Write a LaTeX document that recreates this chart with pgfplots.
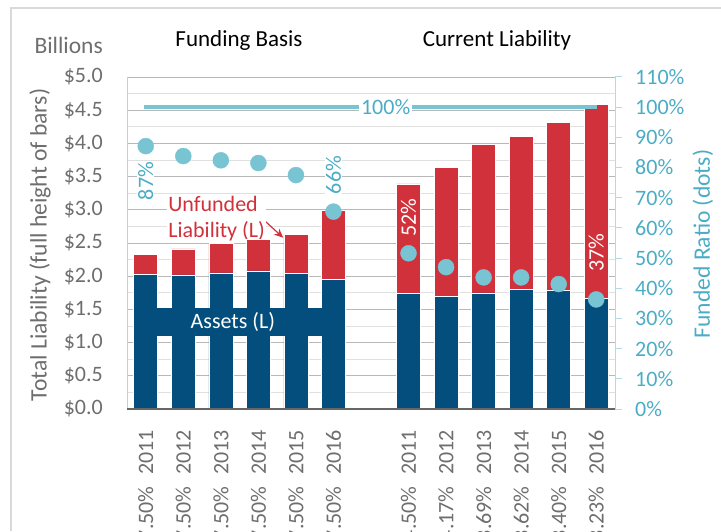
\documentclass[border=0pt]{standalone}
\usepackage{pgfplots}
\pgfplotsset{compat=1.18}
\usepackage{pgfplotstable}
\usepackage{fontspec}
\setmainfont{Carlito}
\usetikzlibrary{arrows.meta}
\definecolor{txtgray}{RGB}{110,110,110}
\definecolor{teal1}{RGB}{75,172,198}
\definecolor{dotc}{RGB}{120,196,210}
\definecolor{dblue}{RGB}{3,78,124}
\definecolor{dred}{RGB}{209,49,58}
\definecolor{raxis}{RGB}{175,220,230}

\pgfplotstableread{
x assets unfunded
0 2.03 0.30
1 2.02 0.39
2 2.05 0.44
3 2.08 0.47
4 2.04 0.59
5 1.95 1.04
7 1.74 1.65
8 1.69 1.95
9 1.75 2.24
10 1.80 2.31
11 1.79 2.53
12 1.67 2.92
}\bars

\pgfplotstableread{
x ratio
0 87.1
1 83.8
2 82.4
3 81.5
4 77.5
5 65.4
7 51.6
8 47.0
9 43.6
10 43.6
11 41.4
12 36.3
}\ratios

\begin{document}
\fontsize{22}{26}\selectfont
\begin{tikzpicture}[x=1pt,y=1pt]
\useasboundingbox (0,0) rectangle (721,531);
\draw[black!15, line width=1.5pt] (11,0) -- (11,523) -- (721,523);

\node[anchor=east, text=txtgray, inner sep=0pt, font=\fontsize{23.5}{28}\selectfont] at (103,486) {Billions};
\node[text=black, font=\fontsize{23}{28}\selectfont] at (239,491) {Funding Basis};
\node[text=black, font=\fontsize{23}{28}\selectfont] at (497,491) {Current Liability};
\node[rotate=90, text=txtgray, font=\fontsize{23.6}{28}\selectfont] at (40,286) {Total Liability (full height of bars)};
\node[rotate=90, text=teal1, font=\fontsize{23.6}{28}\selectfont] at (703,287) {Funded Ratio (dots)};

\begin{axis}[
  at={(127pt,122pt)}, anchor=south west,
  scale only axis, width=488pt, height=332pt,
  xmin=-0.5, xmax=12.5, ymin=0, ymax=5,
  ybar stacked, bar width=24pt,
  xtick={0,1,2,3,4,5,7,8,9,10,11,12},
  xticklabels={7.50\%\hspace{0.3em} 2011,7.50\%\hspace{0.3em} 2012,7.50\%\hspace{0.3em} 2013,7.50\%\hspace{0.3em} 2014,7.50\%\hspace{0.3em} 2015,7.50\%\hspace{0.3em} 2016,4.50\%\hspace{0.3em} 2011,4.17\%\hspace{0.3em} 2012,3.69\%\hspace{0.3em} 2013,3.62\%\hspace{0.3em} 2014,3.40\%\hspace{0.3em} 2015,3.23\%\hspace{0.3em} 2016},
  x tick label style={rotate=90, anchor=east, text=txtgray, inner sep=0pt},
  xticklabel shift=21pt,
  xtick style={draw=none},
  ytick={0,0.5,1,1.5,2,2.5,3,3.5,4,4.5,5},
  yticklabels={\$0.0,\$0.5,\$1.0,\$1.5,\$2.0,\$2.5,\$3.0,\$3.5,\$4.0,\$4.5,\$5.0},
  y tick label style={text=txtgray, inner sep=0pt},
  yticklabel shift=24pt,
  ytick style={draw=none},
  minor ytick={0.25,0.75,1.25,1.75,2.25,2.75,3.25,3.75,4.25,4.75},
  minor tick style={draw=none},
  ymajorgrids, yminorgrids,
  major grid style={black!28, line width=1pt},
  minor grid style={black!12, line width=1pt},
  axis y line*=left, axis x line*=bottom,
  y axis line style={black!20, line width=1pt, -},
  x axis line style={draw=none},
  clip=false,
]
\addplot[fill=dblue, draw=white, line width=0.6pt] table[x=x, y=assets] {\bars};
\addplot[fill=dred, draw=white, line width=0.6pt] table[x=x, y=unfunded] {\bars};
\node[anchor=north west, align=left, text=dred, fill=white, inner sep=1pt] at (axis cs:0.57,3.22) {Unfunded\\Liability (L)};
\draw[dred, line width=1.2pt, -{Stealth[length=9pt,width=8pt]}] (axis cs:3.12,2.86) -- (axis cs:3.66,2.58);
\end{axis}

\begin{axis}[
  at={(127pt,122pt)}, anchor=south west,
  scale only axis, width=488pt, height=332pt,
  xmin=-0.5, xmax=12.5, ymin=0, ymax=110,
  axis x line*=bottom, xtick=\empty,
  x axis line style={black!60, line width=1.5pt, -},
  axis y line*=right,
  ytick={0,10,20,30,40,50,60,70,80,90,100,110},
  yticklabels={0\%,10\%,20\%,30\%,40\%,50\%,60\%,70\%,80\%,90\%,100\%,110\%},
  y tick label style={text=teal1, inner sep=0pt, anchor=west, xshift=13pt},
  tick align=outside, major tick length=7pt,
  ytick style={raxis, line width=1pt},
  y axis line style={raxis, line width=1pt, -},
  clip=false,
]
\fill[dblue] (axis cs:0.3,24.2) rectangle (axis cs:4.7,33.4);
\node[text=white] at (axis cs:2.32,28.8) {Assets (L)};
\addplot[dotc, line width=4pt] coordinates {(-0.05,100) (12.02,100)};
\addplot[only marks, mark=*, mark size=8pt, mark options={fill=dotc, draw=dotc}] table[x=x, y=ratio] {\ratios};
\node[text=teal1, fill=white, inner sep=2pt] at (axis cs:6.39,100) {100\%};
\node[rotate=90, text=teal1, fill=white, inner sep=1pt] at (axis cs:0,75.5) {87\%};
\node[rotate=90, text=teal1, fill=white, inner sep=1pt] at (axis cs:5,77.5) {66\%};
\node[rotate=90, text=white, inner sep=1pt] at (axis cs:7,63.3) {52\%};
\node[rotate=90, text=white, inner sep=1pt] at (axis cs:12,51.7) {37\%};
\end{axis}
\end{tikzpicture}
\end{document}
